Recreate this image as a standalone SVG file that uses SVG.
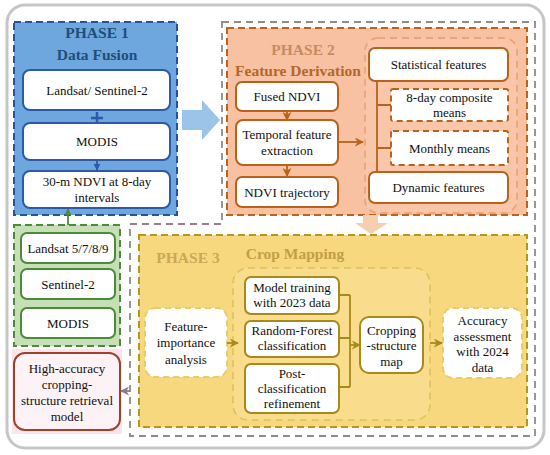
<svg xmlns="http://www.w3.org/2000/svg" width="550" height="455" viewBox="0 0 550 455" font-family="Liberation Serif, Times New Roman, serif" font-size="13" text-anchor="middle">
<defs>
<style>
text{font-family:'Liberation Serif','Times New Roman',serif;font-size:13px;fill:#111}
.t1{font-weight:bold;font-size:15.5px;fill:#1f4e79}
.t2a{font-weight:bold;font-size:15.5px;fill:#c98a62}
.t2b{font-weight:bold;font-size:15.5px;fill:#b2672c}
.t3a{font-weight:bold;font-size:15.5px;fill:#c9a955}
.t3b{font-weight:bold;font-size:15.5px;fill:#c29f45}
.bb{fill:#fff;stroke:#2d5aa6;stroke-width:2}
.gb{fill:#fff;stroke:#4d8a3b;stroke-width:2}
.ob{fill:#fff;stroke:#b8621c;stroke-width:2}
.od{fill:#fff;stroke:#b8621c;stroke-width:2;stroke-dasharray:6 4}
.yb{fill:#fff;stroke:#a8891a;stroke-width:2}
.yd{fill:#fff;stroke:#e6cd6a;stroke-width:2;stroke-dasharray:6 4}
.con{fill:none;stroke-width:1.8}
</style>
<marker id="ab" viewBox="0 0 10 10" refX="9" refY="5" markerWidth="4" markerHeight="4" orient="auto"><path d="M0,0L10,5L0,10z" fill="#2d5aa6"/></marker>
<marker id="ag" viewBox="0 0 10 10" refX="9" refY="5" markerWidth="4" markerHeight="4" orient="auto"><path d="M0,0L10,5L0,10z" fill="#4d8a3b"/></marker>
<marker id="ao" viewBox="0 0 10 10" refX="9" refY="5" markerWidth="5" markerHeight="5" orient="auto"><path d="M0,0L10,5L0,10L3,5z" fill="#b8621c"/></marker>
<marker id="ay" viewBox="0 0 10 10" refX="9" refY="5" markerWidth="5" markerHeight="5" orient="auto"><path d="M0,0L10,5L0,10L3,5z" fill="#a8891a"/></marker>
<marker id="am" viewBox="0 0 10 10" refX="9" refY="5" markerWidth="5" markerHeight="5" orient="auto"><path d="M0,0L10,5L0,10L3,5z" fill="#8a7a8a"/></marker>
</defs>

<rect x="7" y="5" width="537" height="443" rx="18" fill="#fff" stroke="#c6c6c6" stroke-width="3"/>

<path d="M222,22 H535 V436 H130 V224 H222 Z" fill="none" stroke="#8c8c8c" stroke-width="1.8" stroke-dasharray="7 5"/>
<path d="M130,224 H220" fill="none" stroke="#a07a90" stroke-width="1.8" stroke-dasharray="7 5"/>

<g id="phase1">
<rect x="14" y="22" width="163" height="193" fill="#6ea7dd" stroke="#2d4f9e" stroke-width="2" stroke-dasharray="7 4"/>
<text class="t1" x="97" y="38">PHASE 1</text>
<text class="t1" x="97" y="60">Data Fusion</text>
</g>
<g id="landsat-sentinel"><rect class="bb" x="23" y="70" width="147" height="40" rx="7"/><text x="97" y="95">Landsat/ Sentinel-2</text></g>
<g id="plus"><path d="M91,118 H103 M97,112 V124" stroke="#2d5aa6" stroke-width="2.5"/></g>
<g id="modis1"><rect class="bb" x="23" y="123" width="147" height="37" rx="7"/><text x="97" y="146">MODIS</text></g>
<g id="ndvi30"><rect class="bb" x="23" y="171" width="147" height="37" rx="7"/><text x="97" y="186">30-m NDVI at 8-day</text><text x="97" y="202">intervals</text></g>

<g id="sources">
<rect x="14" y="225" width="106" height="121" fill="#c5e0b4" stroke="#4d8a3b" stroke-width="2" stroke-dasharray="7 4"/>
</g>
<g id="landsat5789"><rect class="gb" x="21" y="233" width="94" height="30" rx="6"/><text x="68" y="252.5">Landsat 5/7/8/9</text></g>
<g id="sentinel2"><rect class="gb" x="21" y="269" width="94" height="30" rx="6"/><text x="68" y="288.5">Sentinel-2</text></g>
<g id="modis2"><rect class="gb" x="21" y="308" width="94" height="30" rx="6"/><text x="68" y="327.5">MODIS</text></g>

<g id="high-accuracy">
<rect x="12" y="349" width="110" height="85" fill="#fce4ee"/>
<rect x="14" y="353" width="106" height="77" rx="11" fill="#fdf2f5" stroke="#a0422a" stroke-width="2"/>
<text x="67" y="373">High-accuracy</text>
<text x="67" y="389">cropping-</text>
<text x="67" y="405">structure retrieval</text>
<text x="67" y="421">model</text>
</g>

<g id="phase2">
<rect x="227" y="28" width="300" height="187" fill="#f8c1a2" stroke="#c0621c" stroke-width="2" stroke-dasharray="7 4"/>
<text class="t2a" x="303" y="55">PHASE 2</text>
<text class="t2b" x="298" y="76">Feature Derivation</text>
</g>
<g id="fused-ndvi"><rect class="ob" x="236" y="82" width="102" height="29" rx="6"/><text x="287" y="101">Fused NDVI</text></g>
<g id="temporal"><rect class="ob" x="236" y="120" width="102" height="45" rx="7"/><text x="287" y="139">Temporal feature</text><text x="287" y="155">extraction</text></g>
<g id="ndvi-traj"><rect class="ob" x="236" y="177" width="102" height="30" rx="6"/><text x="287" y="196.5">NDVI trajectory</text></g>
<g id="feature-group">
<rect x="365" y="38" width="152" height="175" rx="13" fill="#f9c6aa" stroke="#eca47a" stroke-width="1.8" stroke-dasharray="7 5"/>
</g>
<g id="statistical"><rect class="ob" x="369" y="48" width="139" height="33" rx="6"/><text x="438.5" y="69">Statistical features</text></g>
<g id="eightday"><rect class="od" x="391" y="89" width="117" height="32" rx="2"/><text x="449.5" y="102">8-day composite</text><text x="449.5" y="117">means</text></g>
<g id="monthly"><rect class="od" x="391" y="131" width="117" height="34" rx="2"/><text x="449.5" y="152.5">Monthly means</text></g>
<g id="dynamic"><rect class="ob" x="369" y="172" width="139" height="31" rx="6"/><text x="438.5" y="192">Dynamic features</text></g>

<g id="phase3">
<rect x="139" y="235" width="388" height="192" fill="#f8d87e" stroke="#b8961c" stroke-width="2" stroke-dasharray="7 4"/>
<text class="t3a" x="188" y="263">PHASE 3</text>
<text class="t3b" x="295" y="259">Crop Mapping</text>
</g>
<g id="mapping-group">
<rect x="233" y="268" width="197" height="152" rx="15" fill="#f9dc8c" stroke="#dcc25a" stroke-width="1.6" stroke-dasharray="7 5"/>
</g>
<g id="feature-importance"><rect class="yd" x="145" y="308" width="82" height="69" rx="10"/><text x="186" y="331">Feature-</text><text x="186" y="347">importance</text><text x="186" y="364">analysis</text></g>
<g id="model-training"><rect class="yb" x="245" y="277" width="94" height="37" rx="6"/><text x="292" y="292">Model training</text><text x="292" y="307">with 2023 data</text></g>
<g id="random-forest"><rect class="yb" x="245" y="321" width="94" height="36" rx="6"/><text x="292" y="335">Random-Forest</text><text x="292" y="350">classification</text></g>
<g id="post-class"><rect class="yb" x="245" y="364" width="94" height="49" rx="6"/><text x="292" y="378">Post-</text><text x="292" y="393">classification</text><text x="292" y="408">refinement</text></g>
<g id="crop-map"><rect class="yb" x="360" y="317" width="63" height="56" rx="9"/><text x="391.5" y="335">Cropping</text><text x="391.5" y="350">-structure</text><text x="391.5" y="366">map</text></g>
<g id="accuracy"><rect class="yd" x="443" y="308" width="79" height="70" rx="10"/><text x="482.5" y="325">Accuracy</text><text x="482.5" y="341">assessment</text><text x="482.5" y="356">with 2024</text><text x="482.5" y="372">data</text></g>

<g id="connectors">
<path d="M182,110 H202 V100 L220,120 L202,140 V130 H182 Z" fill="#9cc3e8"/>
<path d="M363,215 H378 V223 H388 L371,234 L355,223 H363 Z" fill="#f5cfb0"/>
<path class="con" d="M97,160 V170" stroke="#2d5aa6" marker-end="url(#ab)"/>
<path class="con" d="M68,225 V209" stroke="#4d8a3b" marker-end="url(#ag)"/>
<path class="con" d="M287,111 V120" stroke="#b8621c" marker-end="url(#ao)"/>
<path class="con" d="M287,165 V176" stroke="#b8621c" marker-end="url(#ao)"/>
<path class="con" d="M338,142 H363" stroke="#b8621c" marker-end="url(#ao)"/>
<path class="con" d="M377,81 V172 M377,105 H391 M377,148 H391" stroke="#b8621c"/>
<path class="con" d="M227,343 H238" stroke="#a8891a" marker-end="url(#ay)"/>
<path class="con" d="M339,295 H350 M339,338 H350 M339,387 H350 M350,295 V387" stroke="#a8891a"/>
<path class="con" d="M350,345 H360" stroke="#a8891a" marker-end="url(#ay)"/>
<path class="con" d="M430,343 H442" stroke="#a8891a" marker-end="url(#ay)"/>
<path class="con" d="M130,391 H121" stroke="#8a7a8a" marker-end="url(#am)"/>
</g>
</svg>
